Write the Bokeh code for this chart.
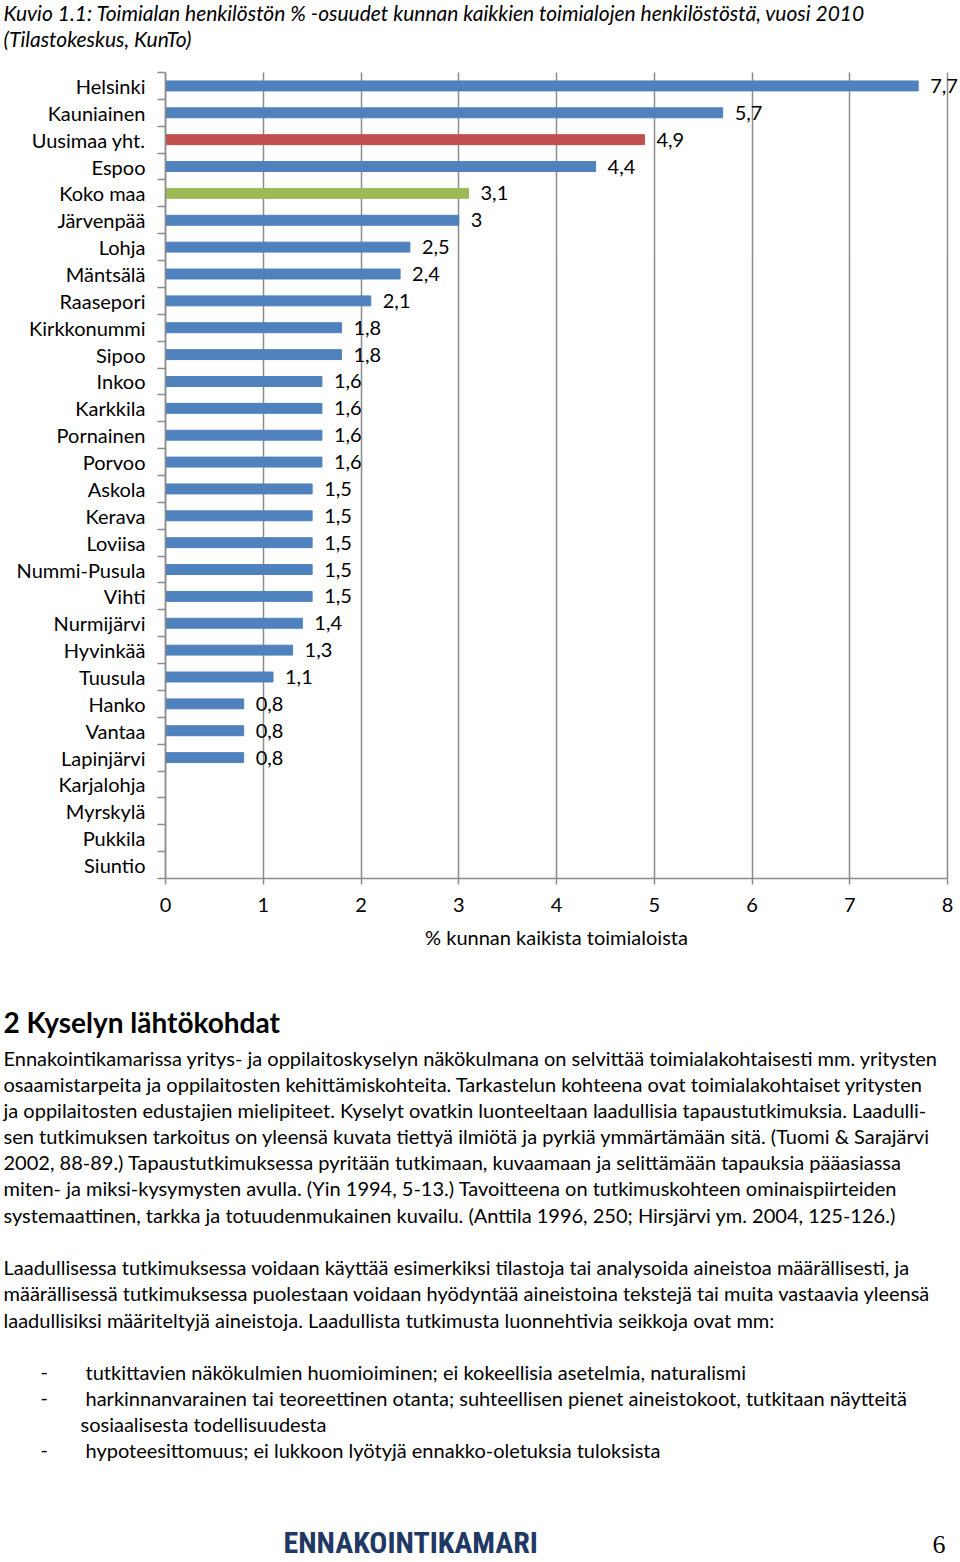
from bokeh.plotting import figure
from bokeh.models import (Range1d, FixedTicker, ColumnDataSource, LabelSet,
                          LinearAxis, Grid)
from bokeh.embed import file_html
from bokeh.resources import INLINE
from bokeh.core.properties import value

# ---------------- data ----------------
categories = ["Helsinki", "Kauniainen", "Uusimaa yht.", "Espoo", "Koko maa",
              "Järvenpää", "Lohja", "Mäntsälä", "Raasepori", "Kirkkonummi",
              "Sipoo", "Inkoo", "Karkkila", "Pornainen", "Porvoo", "Askola",
              "Kerava", "Loviisa", "Nummi-Pusula", "Vihti", "Nurmijärvi",
              "Hyvinkää", "Tuusula", "Hanko", "Vantaa", "Lapinjärvi",
              "Karjalohja", "Myrskylä", "Pukkila", "Siuntio"]
values = [7.7, 5.7, 4.9, 4.4, 3.1, 3.0, 2.5, 2.4, 2.1, 1.8, 1.8, 1.6, 1.6, 1.6,
          1.6, 1.5, 1.5, 1.5, 1.5, 1.5, 1.4, 1.3, 1.1, 0.8, 0.8, 0.8,
          None, None, None, None]
region_total = "Uusimaa yht."
country_total = "Koko maa"
x_ticks = [0, 1, 2, 3, 4, 5, 6, 7, 8]

title_lines = [
    "Kuvio 1.1: Toimialan henkilöstön % -osuudet kunnan kaikkien toimialojen henkilöstöstä, vuosi 2010",
    "(Tilastokeskus, KunTo)",
]
x_label = "% kunnan kaikista toimialoista"
heading = "2 Kyselyn lähtökohdat"
para1 = [
    "Ennakointikamarissa yritys- ja oppilaitoskyselyn näkökulmana on selvittää toimialakohtaisesti mm. yritysten",
    "osaamistarpeita ja oppilaitosten kehittämiskohteita. Tarkastelun kohteena ovat toimialakohtaiset yritysten",
    "ja oppilaitosten edustajien mielipiteet. Kyselyt ovatkin luonteeltaan laadullisia tapaustutkimuksia. Laadulli-",
    "sen tutkimuksen tarkoitus on yleensä kuvata tiettyä ilmiötä ja pyrkiä ymmärtämään sitä. (Tuomi & Sarajärvi",
    "2002, 88-89.) Tapaustutkimuksessa pyritään tutkimaan, kuvaamaan ja selittämään tapauksia pääasiassa",
    "miten- ja miksi-kysymysten avulla. (Yin 1994, 5-13.) Tavoitteena on tutkimuskohteen ominaispiirteiden",
    "systemaattinen, tarkka ja totuudenmukainen kuvailu. (Anttila 1996, 250; Hirsjärvi ym. 2004, 125-126.)",
]
para2 = [
    "Laadullisessa tutkimuksessa voidaan käyttää esimerkiksi tilastoja tai analysoida aineistoa määrällisesti, ja",
    "määrällisessä tutkimuksessa puolestaan voidaan hyödyntää aineistoina tekstejä tai muita vastaavia yleensä",
    "laadullisiksi määriteltyjä aineistoja. Laadullista tutkimusta luonnehtivia seikkoja ovat mm:",
]
bullets = [
    ("-", "tutkittavien näkökulmien huomioiminen; ei kokeellisia asetelmia, naturalismi"),
    ("-", "harkinnanvarainen tai teoreettinen otanta; suhteellisen pienet aineistokoot, tutkitaan näytteitä"),
    ("", "sosiaalisesta todellisuudesta"),
    ("-", "hypoteesittomuus; ei lukkoon lyötyjä ennakko-oletuksia tuloksista"),
]
footer_brand = "ENNAKOINTIKAMARI"
page_number = "6"

# ---------------- style / layout ----------------
FONT = "Lato"
BLUE, RED, GREEN = "#4F81BD", "#C0504D", "#9BBB59"
GRAY = "#8c8c8c"
PAGE_W, PAGE_H = 960, 1562
FL, FR, FT, FB = 165, 947, 72, 878          # chart area on the page (px)
X0, X1 = 0, 8
n = len(categories)
Y0, Y1 = 0.5, n + 0.5
ppx = (FR - FL) / (X1 - X0)
ppy = (FB - FT) / (Y1 - Y0)

# page figure: default ranges are page pixels, "chart" ranges hold the data
p = figure(width=PAGE_W, height=PAGE_H, x_range=Range1d(0, PAGE_W),
           y_range=Range1d(PAGE_H, 0), output_backend="svg",
           toolbar_location=None, x_axis_location=None, y_axis_location=None,
           min_border=0)
p.extra_x_ranges = {"chart": Range1d(X0 - FL / ppx, X1 + (PAGE_W - FR) / ppx)}
p.extra_y_ranges = {"chart": Range1d(Y0 - (PAGE_H - FB) / ppy, Y1 + FT / ppy)}
p.outline_line_color = None
p.background_fill_color = "white"
p.border_fill_color = "white"
p.grid.visible = False

ypos = [n - i for i in range(n)]
colors = [RED if c == region_total else GREEN if c == country_total else BLUE
          for c in categories]
idx = [i for i, v in enumerate(values) if v is not None]
src = ColumnDataSource(dict(
    y=[ypos[i] for i in idx],
    v=[values[i] for i in idx],
    color=[colors[i] for i in idx],
    label=[f"{values[i]:g}".replace(".", ",") for i in idx],
))

# vertical grid lines
xticker = FixedTicker(ticks=x_ticks, minor_ticks=[])
if "cross_bounds" in Grid.properties():
    g = Grid(dimension=0, ticker=xticker, x_range_name="chart",
             y_range_name="chart", bounds=(X0, X1), cross_bounds=(Y0, Y1),
             grid_line_color=GRAY, grid_line_width=1.5)
    p.add_layout(g)
else:
    p.segment(x0=x_ticks, x1=x_ticks, y0=Y0, y1=Y1, line_color=GRAY,
              line_width=1.5, x_range_name="chart", y_range_name="chart")

p.hbar(y="y", left=0, right="v", height=0.37, color="color", source=src,
       x_range_name="chart", y_range_name="chart")
p.add_layout(LabelSet(x="v", y="y", text="label", source=src, x_offset=12,
                      x_range_name="chart", y_range_name="chart",
                      text_font=value(FONT), text_font_size="20px",
                      text_baseline="middle", text_align="left",
                      text_color="black"))

# x axis (drawn at the bottom edge of the chart area)
xa = LinearAxis(x_range_name="chart", fixed_location=FB, bounds=(X0, X1),
                ticker=xticker)
xa.axis_line_color = GRAY
xa.axis_line_width = 1.5
xa.major_tick_line_color = GRAY
xa.major_tick_line_width = 1.5
xa.major_tick_out = 6
xa.major_tick_in = 0
xa.minor_tick_line_color = None
xa.major_label_text_font = FONT
xa.major_label_text_font_size = "20px"
xa.major_label_text_color = "black"
xa.major_label_standoff = 13
xa.axis_label = x_label
xa.axis_label_text_font = FONT
xa.axis_label_text_font_size = "20px"
xa.axis_label_text_font_style = "normal"
xa.axis_label_text_color = "black"
xa.axis_label_standoff = 10
p.add_layout(xa, "below")

# y axis (categories, ticks between them)
ya = LinearAxis(y_range_name="chart", fixed_location=FL, bounds=(Y0, Y1),
                ticker=FixedTicker(ticks=ypos,
                                   minor_ticks=[y + 0.5 for y in ypos] + [Y0]))
ya.major_label_overrides = {y: c for y, c in zip(ypos, categories)}
ya.axis_line_color = GRAY
ya.axis_line_width = 1.5
ya.major_tick_out = 0
ya.major_tick_in = 0
ya.major_tick_line_color = None
ya.minor_tick_line_color = GRAY
ya.minor_tick_line_width = 1.5
ya.minor_tick_out = 8
ya.minor_tick_in = 0
ya.major_label_text_font = FONT
ya.major_label_text_font_size = "20px"
ya.major_label_text_color = "black"
ya.major_label_standoff = 12
p.add_layout(ya, "left")


def put(xs, ys, texts, size="20px", style="normal", color="black", font=FONT,
        align="left"):
    p.text(x=xs, y=ys, text=texts, text_font=value(font), text_font_size=size,
           text_font_style=style, text_color=color, text_align=align,
           text_baseline="alphabetic")


# title
put([3] * len(title_lines), [12 + 25.5 * i for i in range(len(title_lines))],
    title_lines, size="21px", style="italic")

# heading and paragraphs
put([3], [1021], [heading], size="28px", style="bold")
put([3] * len(para1), [1057 + 26.17 * i for i in range(len(para1))], para1)
put([3] * len(para2), [1266.5 + 26.3 * i for i in range(len(para2))], para2)
by = [1371 + 26.3 * i for i in range(len(bullets))]
marks = [(by[i], m) for i, (m, _) in enumerate(bullets) if m]
put([40] * len(marks), [y for y, _ in marks], [m for _, m in marks])
put([85 if m else 80 for m, _ in bullets], by, [t for _, t in bullets])

# footer
put([283], [1542], [footer_brand], size="30px", style="bold", color="#1F3864",
    font="Liberation Sans Narrow, Roboto Condensed, Roboto")
put([945], [1544], [page_number], size="26px", font="Liberation Serif",
    align="right")

open("out.html", "w").write(file_html(p, INLINE))
